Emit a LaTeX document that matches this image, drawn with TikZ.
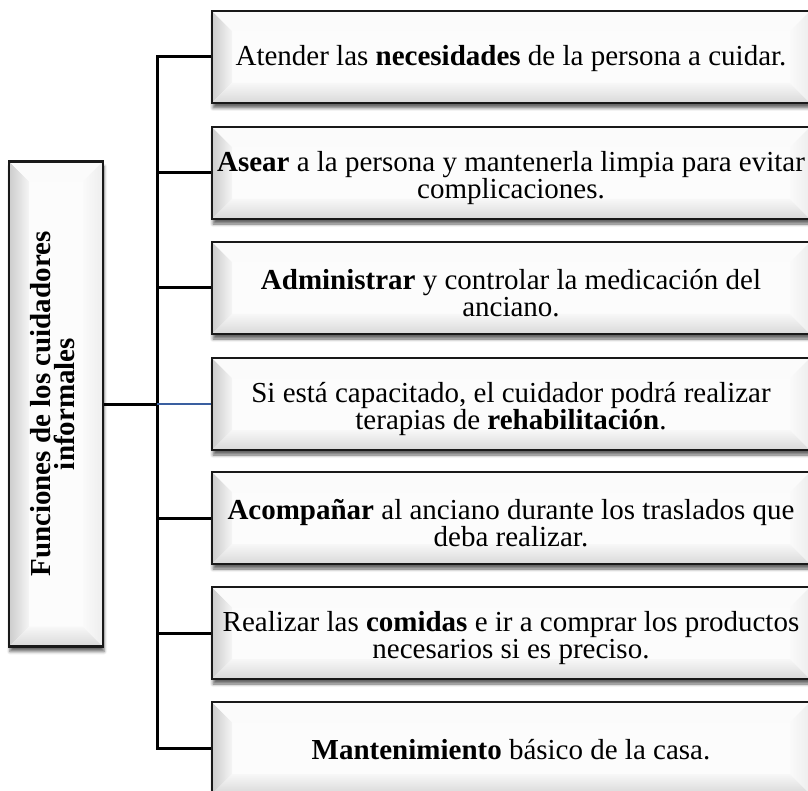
\documentclass[tikz,border=0pt]{standalone}
\usepackage{fontspec}
\setmainfont{Liberation Serif}
\usetikzlibrary{shadows.blur}
\newcommand{\bw}{20pt}
\definecolor{azulrama}{RGB}{58,95,160}

\begin{document}
\begin{tikzpicture}[
    x=1pt, y=-1pt,
    font=\fontsize{29}{23}\selectfont,
    bevel/.style={path picture={
        \coordinate (bsw) at (path picture bounding box.south west);
        \coordinate (bse) at (path picture bounding box.south east);
        \coordinate (bnw) at (path picture bounding box.north west);
        \coordinate (bne) at (path picture bounding box.north east);
        \shade[left color=gray!40, right color=gray!8] (bsw) -- (bnw) -- ([shift={(\bw,-\bw)}]bnw) -- ([shift={(\bw,\bw)}]bsw) -- cycle;
        \shade[bottom color=gray!30, top color=gray!6] (bsw) -- (bse) -- ([shift={(-\bw,\bw)}]bse) -- ([shift={(\bw,\bw)}]bsw) -- cycle;
        \fill[gray!3] (bnw) -- (bne) -- ([shift={(-\bw,-\bw)}]bne) -- ([shift={(\bw,-\bw)}]bnw) -- cycle;
        \shade[left color=gray!4, right color=gray!14] (bse) -- (bne) -- ([shift={(-\bw,-\bw)}]bne) -- ([shift={(-\bw,\bw)}]bse) -- cycle;
      }},
    caja/.style={draw=black!90, line width=2.8pt, fill=gray!2, bevel,
      blur shadow={shadow xshift=1pt, shadow yshift=-5pt, shadow blur radius=3pt, shadow opacity=60},
      minimum width=598pt, minimum height=92pt, inner sep=0pt, align=center},
    tronco/.style={caja, minimum width=94pt, minimum height=485pt},
    rama/.style={line width=3pt},
    enlace/.style={line width=1.5pt, azulrama}
    ]
    \useasboundingbox (0,0) rectangle (808,791);
    \node[tronco] (funciones) at (56,404) {\rotatebox{90}{\begin{tabular}{@{}c@{}}\textbf{Funciones de los cuidadores}\\[-4pt] \textbf{informales}\end{tabular}}};
    \node[caja] (c1) at (511,57) {\rule{0pt}{23pt}Atender las \textbf{necesidades} de la persona a cuidar.};
    \node[caja] (c2) at (511,173) {\rule{0pt}{30pt}\textbf{Asear} a la persona y mantenerla limpia para evitar\\ complicaciones.};
    \node[caja] (c3) at (511,288) {\rule{0pt}{30pt}\textbf{Administrar} y controlar la medicación del\\ anciano.};
    \node[caja] (c4) at (511,404) {\rule{0pt}{30pt}Si está capacitado, el cuidador podrá realizar\\ terapias de \textbf{rehabilitación}.};
    \node[caja] (c5) at (511,518) {\rule{0pt}{30pt}\textbf{Acompañar} al anciano durante los traslados que\\ deba realizar.};
    \node[caja] (c6) at (511,633) {\rule{0pt}{30pt}Realizar las \textbf{comidas} e ir a comprar los productos\\ necesarios si es preciso.};
    \node[caja] (c7) at (511,748) {\rule{0pt}{23pt}\textbf{Mantenimiento} básico de la casa.};
    \coordinate (bus) at (157,404);
    \draw[rama] (funciones.east) -- (bus);
    \draw[rama] (c1.west) -| (bus) |- (c7.west);
    \draw[rama] (c2.west) -- (c2.west -| bus);
    \draw[rama] (c3.west) -- (c3.west -| bus);
    \draw[rama] (c5.west) -- (c5.west -| bus);
    \draw[rama] (c6.west) -- (c6.west -| bus);
    \draw[enlace] (c4.west) -- (bus);
\end{tikzpicture}
\end{document}
